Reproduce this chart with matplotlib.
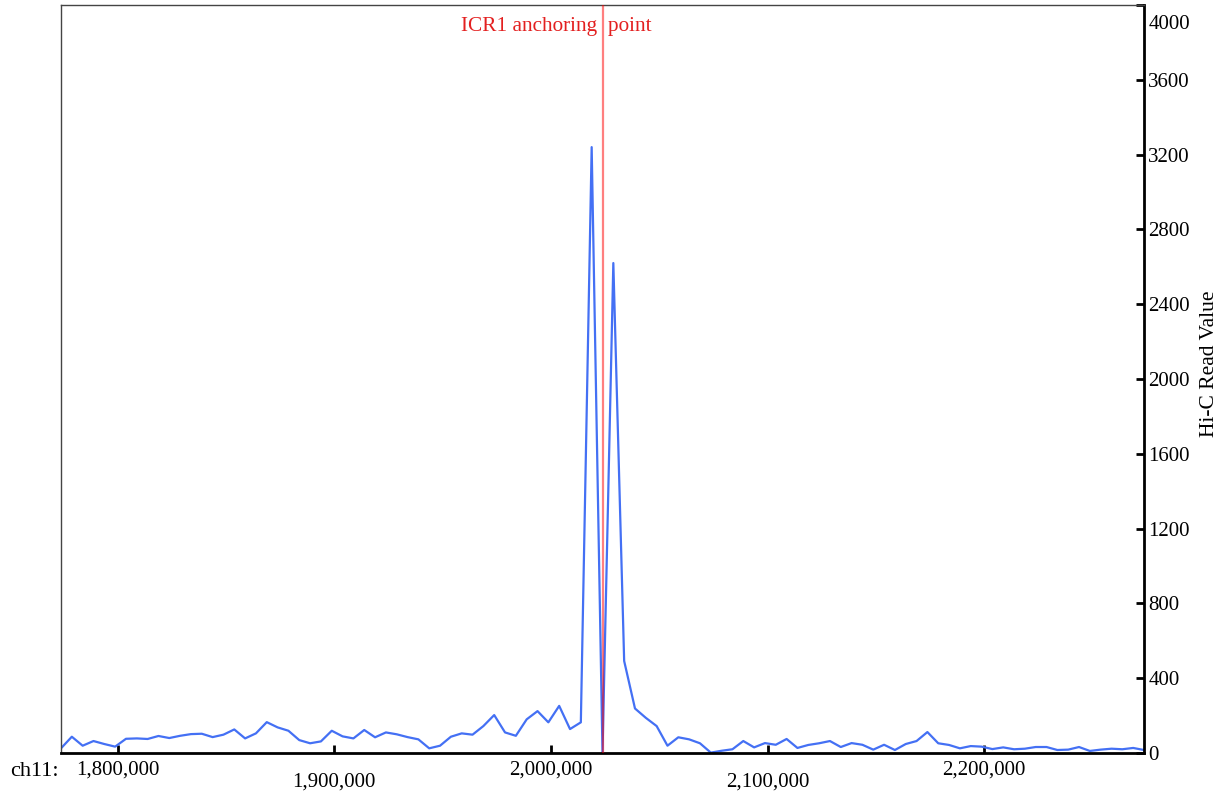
import matplotlib
matplotlib.use("Agg")
import numpy as np
import matplotlib.pyplot as plt
from matplotlib.transforms import ScaledTranslation

plt.rcParams['font.family'] = ['Liberation Serif', 'DejaVu Serif']

# 5 kb bins on chr11, centred on the ICR1 anchor
bin_start = 1773800
bin_size = 5000
anchor_pos = 2023800

hic_values = [
    25, 87, 39, 64, 48, 34, 76, 78, 75, 91, 80, 92, 101, 103, 85, 98, 126, 78, 105, 165, 137,
    119, 69, 52, 62, 119, 89, 78, 123, 84, 110, 100, 85, 73, 25, 39, 87, 105, 98, 144, 203,
    110, 92, 180, 224, 164, 252, 128, 164, 3240, 0, 2620, 492, 238, 188, 144, 39, 84, 73, 52, 2,
    12, 20, 64, 30, 53, 44, 75, 27, 43, 52, 64, 32, 53, 44, 18, 44, 16, 48, 64, 112, 52,
    43, 25, 37, 34, 21, 30, 20, 23, 32, 32, 16, 18, 32, 11, 18, 23, 20, 27, 16,
]
positions = bin_start + bin_size * np.arange(len(hic_values))

x_ticks = [1800000, 1900000, 2000000, 2100000, 2200000]
y_ticks = list(range(0, 4001, 400))

fig = plt.figure(figsize=(12.28, 7.98), dpi=100)
ax = fig.add_axes([61 / 1228, 45 / 798, 1083 / 1228, 748 / 798])

ax.plot(positions, hic_values, color='#4470f4', linewidth=1.6, zorder=2)
ax.axvline(anchor_pos, color='red', alpha=0.5, linewidth=1.6, zorder=3)
ax.text(anchor_pos - 21400, 3885, 'ICR1 anchoring  point', color='#e32020',
        fontsize=15.3, ha='center', va='center')

ax.set_xlim(positions[0], positions[-1])
ax.set_ylim(0, 4000)

# spines
for side in ['left', 'top']:
    ax.spines[side].set_linewidth(1)
    ax.spines[side].set_color('#444444')
for side in ['bottom', 'right']:
    ax.spines[side].set_linewidth(2)
    ax.spines[side].set_color('black')

# y axis on the right
ax.yaxis.tick_right()
ax.yaxis.set_label_position('right')
ax.set_yticks(y_ticks)
ax.set_yticklabels([str(v) for v in y_ticks])
ax.tick_params(axis='y', direction='in', length=6, width=2, pad=3, labelsize=15)
top_label = ax.get_yticklabels()[-1]
top_label.set_transform(top_label.get_transform() + ScaledTranslation(0, -17 / 100, fig.dpi_scale_trans))
ax.set_ylabel('Hi-C Read Value', fontsize=15.5, rotation=90, va='center')
ax.yaxis.set_label_coords(1.0605, 0.521)

# x axis: inward ticks, staggered labels
ax.set_xticks(x_ticks)
ax.set_xticklabels([])
ax.tick_params(axis='x', direction='in', length=6, width=2)
for i, t in enumerate(x_ticks):
    dy = -17 if i % 2 == 0 else -29
    ax.annotate(f'{t:,}', xy=(t, 0), xycoords=('data', 'axes fraction'),
                xytext=(0, dy), textcoords='offset pixels',
                ha='center', va='center', fontsize=15, annotation_clip=False)

fig.text(10 / 1228, 1 - 771 / 798, 'ch11:', fontsize=16, ha='left', va='center')

fig.savefig('out.png', dpi=100)
